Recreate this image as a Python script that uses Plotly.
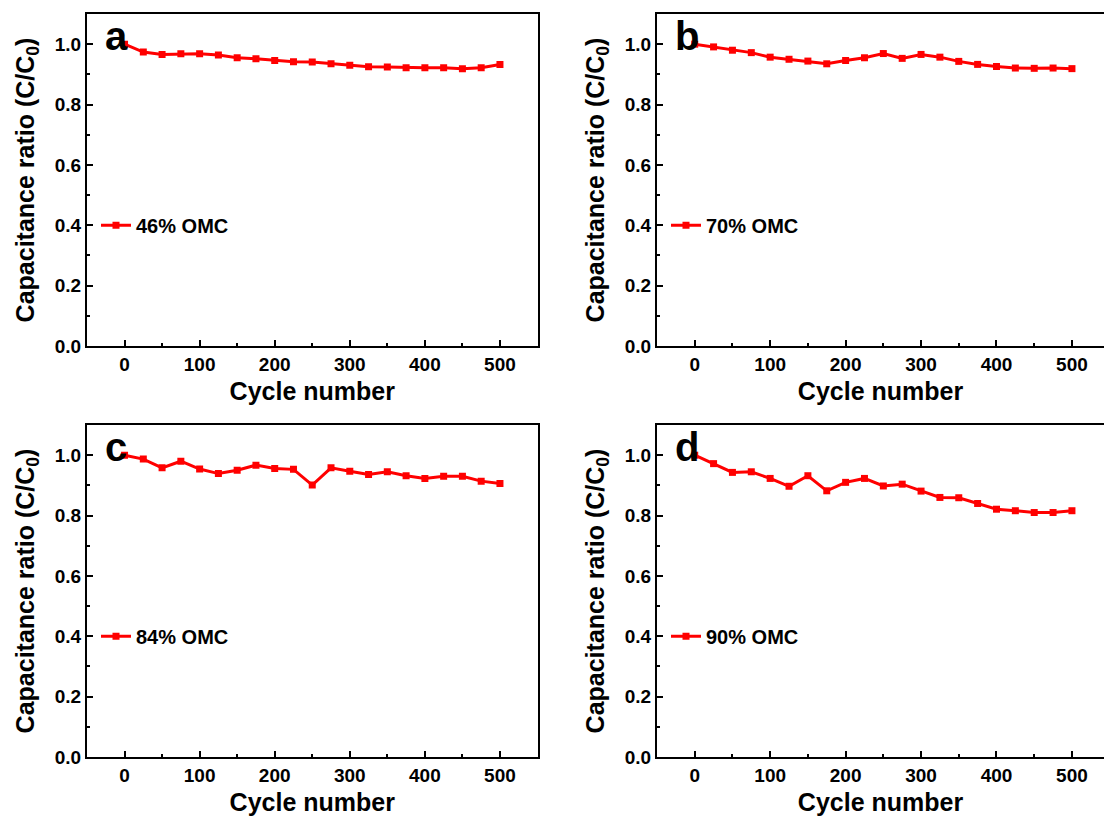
import plotly.graph_objects as go

cycles = [0, 25, 50, 75, 100, 125, 150, 175, 200, 225, 250, 275, 300, 325, 350, 375, 400, 425, 450, 475, 500]

ratio_46 = [1.000, 0.974, 0.966, 0.968, 0.968, 0.964, 0.955, 0.952, 0.946, 0.942, 0.941, 0.935, 0.930,
            0.925, 0.924, 0.922, 0.922, 0.922, 0.919, 0.922, 0.933]
ratio_70 = [1.000, 0.991, 0.980, 0.972, 0.957, 0.950, 0.944, 0.935, 0.946, 0.955, 0.969, 0.953, 0.966,
            0.957, 0.943, 0.933, 0.926, 0.921, 0.920, 0.921, 0.919]
ratio_84 = [1.000, 0.987, 0.958, 0.980, 0.954, 0.939, 0.950, 0.967, 0.956, 0.953, 0.901, 0.958, 0.947,
            0.936, 0.945, 0.932, 0.923, 0.930, 0.930, 0.914, 0.906]
ratio_90 = [1.000, 0.972, 0.943, 0.945, 0.923, 0.897, 0.932, 0.882, 0.910, 0.923, 0.898, 0.904, 0.881,
            0.860, 0.859, 0.840, 0.821, 0.816, 0.810, 0.810, 0.816]

series_names = ["46% OMC", "70% OMC", "84% OMC", "90% OMC"]
panel_letters = ["a", "b", "c", "d"]
series = [ratio_46, ratio_70, ratio_84, ratio_90]

W, H = 1104, 819
FONT = "Liberation Sans, Arial, Helvetica, sans-serif"
RED = "#ff0000"

# pixel boxes of each panel: (left, right, top, bottom)
boxes = [(87, 537.5, 14, 346), (657, 1104, 14, 346), (87, 537.5, 425, 757), (657, 1104, 425, 757)]
xranges = [[-50, 550], [-50, 542.5], [-50, 550], [-50, 542.5]]

fig = go.Figure()
for i, (name, vals) in enumerate(zip(series_names, series)):
    lg = "legend" if i == 0 else f"legend{i+1}"
    xa = "x" if i == 0 else f"x{i+1}"
    ya = "y" if i == 0 else f"y{i+1}"
    fig.add_trace(go.Scatter(
        x=cycles, y=vals, name=name, mode="lines+markers",
        line=dict(color=RED, width=3),
        marker=dict(symbol="square", size=7, color=RED),
        xaxis=xa, yaxis=ya, legend=lg, showlegend=True,
    ))

layout = dict(
    width=W, height=H,
    margin=dict(l=0, r=0, t=0, b=0),
    paper_bgcolor="white", plot_bgcolor="white",
    font=dict(family=FONT, color="black"),
    annotations=[],
)

for i, (l, r, t, b) in enumerate(boxes):
    sfx = "" if i == 0 else str(i + 1)
    xdom = [l / W, r / W]
    ydom = [1 - b / H, 1 - t / H]
    right_col = i in (1, 3)
    layout["xaxis" + sfx] = dict(
        domain=xdom, range=xranges[i], anchor="y" + sfx,
        showline=True, linecolor="black", linewidth=2, mirror=True,
        showgrid=False, zeroline=False,
        ticks="inside", ticklen=6, tickwidth=2, tickcolor="black",
        tick0=0, dtick=100,
        minor=dict(ticks="inside", ticklen=3, tickwidth=2, tickcolor="black", dtick=50, tick0=0),
        tickfont=dict(size=19, weight="bold", family=FONT),
        title=dict(text="Cycle number", font=dict(size=25, weight="bold", family=FONT), standoff=9),
        automargin=False,
    )
    layout["yaxis" + sfx] = dict(
        domain=ydom, range=[0, 1.1], anchor="x" + sfx,
        showline=True, linecolor="black", linewidth=2, mirror=(not right_col),
        showgrid=False, zeroline=False,
        ticks="inside", ticklen=6, tickwidth=2, tickcolor="black",
        tick0=0, dtick=0.2, tickformat=".1f",
        minor=dict(ticks="inside", ticklen=3, tickwidth=2, tickcolor="black", dtick=0.1, tick0=0),
        tickfont=dict(size=19, weight="bold", family=FONT),
        title=dict(text="Capacitance ratio (C/C<sub>0</sub>)", font=dict(size=25, weight="bold", family=FONT), standoff=13),
        automargin=False,
    )
    lg = "legend" if i == 0 else f"legend{i+1}"
    legend_y_px = b - 0.4 * (b - t) / 1.1
    layout[lg] = dict(
        x=(l + 9) / W, y=1 - legend_y_px / H, xanchor="left", yanchor="middle",
        xref="paper", yref="paper",
        bgcolor="rgba(0,0,0,0)", borderwidth=0,
        font=dict(size=20, weight="bold", family=FONT),
        itemwidth=30, tracegroupgap=0,
    )
    layout["annotations"].append(dict(
        text=panel_letters[i], xref="paper", yref="paper",
        x=(l + 16) / W, y=1 - (t + 22) / H, xanchor="left", yanchor="middle",
        showarrow=False, font=dict(size=40, weight="bold", family=FONT),
    ))

fig.update_layout(**layout)
fig.write_html("out.html")
